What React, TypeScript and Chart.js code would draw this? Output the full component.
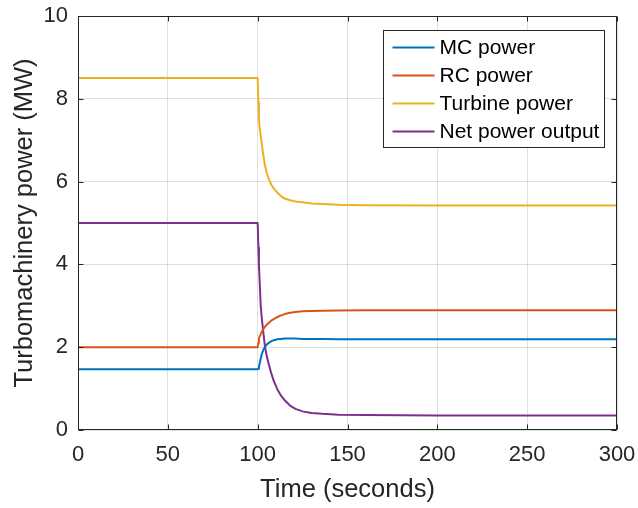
import React, { useEffect, useRef } from "react";
import { Chart, registerables } from "chart.js";

Chart.register(...registerables);

const time = [0, 100, 100.4, 100.7, 101.1, 101.7, 102.3, 103, 104, 105, 106, 107.5, 109, 111, 113, 115, 118, 121, 125, 130, 136, 145, 160, 200, 300];
const mcPower = [1.47, 1.47, 1.48, 1.52, 1.6, 1.72, 1.83, 1.92, 2.0, 2.06, 2.1, 2.14, 2.17, 2.19, 2.2, 2.21, 2.21, 2.21, 2.2, 2.2, 2.2, 2.19, 2.19, 2.19, 2.19];
const rcPower = [2.0, 2.0, 2.1, 2.2, 2.26, 2.31, 2.37, 2.43, 2.49, 2.54, 2.58, 2.64, 2.68, 2.73, 2.77, 2.8, 2.83, 2.85, 2.87, 2.875, 2.88, 2.885, 2.89, 2.89, 2.89];
const turbinePower = [8.5, 8.5, 7.91, 7.51, 7.3, 7.11, 6.9, 6.68, 6.4, 6.22, 6.08, 5.93, 5.83, 5.73, 5.65, 5.59, 5.55, 5.52, 5.5, 5.47, 5.46, 5.44, 5.43, 5.42, 5.42];
const netPower = [5.0, 5.0, 4.41, 4.0, 3.6, 3.0, 2.7, 2.42, 2.03, 1.8, 1.62, 1.38, 1.18, 0.98, 0.83, 0.72, 0.59, 0.51, 0.45, 0.41, 0.39, 0.37, 0.36, 0.35, 0.35];

const seriesLabels = ["MC power", "RC power", "Turbine power", "Net power output"];
const seriesColors = ["#0072BD", "#D95319", "#EDB120", "#7E2F8E"];
const seriesValues = [mcPower, rcPower, turbinePower, netPower];

const xTicks = [0, 50, 100, 150, 200, 250, 300];
const yTicks = [0, 2, 4, 6, 8, 10];

const FONT = "'Liberation Sans', Arial, Helvetica, sans-serif";
const AXIS_COLOR = "#262626";

const framePlugin = {
  id: "matlabFrame",
  afterDraw(chart: any) {
    const { ctx, chartArea } = chart;
    const { left, right, top, bottom } = chartArea;
    const xs = chart.scales.x;
    const ys = chart.scales.y;
    ctx.save();
    ctx.strokeStyle = AXIS_COLOR;
    ctx.lineWidth = 1;
    const L = Math.round(left) + 0.5;
    const R = Math.round(right) - 0.5;
    const T = Math.round(top) + 0.5;
    const B = Math.round(bottom) - 0.5;
    ctx.strokeRect(L, T, R - L, B - T);
    const tl = 5;
    ctx.beginPath();
    xTicks.forEach((v) => {
      const px = Math.round(xs.getPixelForValue(v)) + 0.5;
      ctx.moveTo(px, B);
      ctx.lineTo(px, B - tl);
      ctx.moveTo(px, T);
      ctx.lineTo(px, T + tl);
    });
    yTicks.forEach((v) => {
      const py = Math.round(ys.getPixelForValue(v)) + 0.5;
      ctx.moveTo(L, py);
      ctx.lineTo(L + tl, py);
      ctx.moveTo(R, py);
      ctx.lineTo(R - tl, py);
    });
    ctx.stroke();

    // legend
    const boxW = 221;
    const boxH = 117;
    const bx = Math.round(right) - 13 - boxW + 0.5;
    const by = Math.round(top) + 14 + 0.5;
    ctx.fillStyle = "#ffffff";
    ctx.fillRect(bx, by, boxW, boxH);
    ctx.strokeStyle = AXIS_COLOR;
    ctx.strokeRect(bx, by, boxW, boxH);
    ctx.font = `21px ${FONT}`;
    ctx.textBaseline = "middle";
    ctx.textAlign = "left";
    chart.data.datasets.forEach((ds: any, i: number) => {
      const ry = by + 17 + i * 28;
      ctx.strokeStyle = ds.borderColor;
      ctx.lineWidth = 2;
      ctx.beginPath();
      ctx.moveTo(bx + 9, ry);
      ctx.lineTo(bx + 51, ry);
      ctx.stroke();
      ctx.fillStyle = "#000000";
      ctx.fillText(ds.label, bx + 56, ry + 1);
    });
    ctx.restore();
  },
};

export default function App() {
  const ref = useRef<HTMLCanvasElement | null>(null);
  useEffect(() => {
    document.body.style.margin = "0";
    const canvas = ref.current;
    if (!canvas) return;
    const datasets = seriesValues.map((vals, i) => ({
      label: seriesLabels[i],
      data: time.map((t, j) => ({ x: t, y: vals[j] })),
      borderColor: seriesColors[i],
      backgroundColor: seriesColors[i],
      borderWidth: 2,
      borderJoinStyle: "round" as const,
      pointRadius: 0,
      tension: 0,
      fill: false,
    }));
    const chart = new Chart(canvas, {
      type: "line",
      data: { datasets },
      options: {
        responsive: false,
        animation: false,
        devicePixelRatio: 1,
        layout: { padding: { top: 16, right: 21, left: 0, bottom: 0 } },
        plugins: { legend: { display: false }, tooltip: { enabled: false } },
        scales: {
          x: {
            type: "linear",
            min: 0,
            max: 300,
            afterFit: (s: any) => {
              s.height = 78;
              s.paddingLeft = 0;
              s.paddingRight = 0;
            },
            afterBuildTicks: (s: any) => {
              s.ticks = xTicks.map((v) => ({ value: v }));
            },
            grid: { color: "rgba(38,38,38,0.15)", drawTicks: false, lineWidth: 1 },
            border: { display: false },
            ticks: {
              padding: 12,
              color: AXIS_COLOR,
              font: { family: FONT, size: 22 },
              maxRotation: 0,
              autoSkip: false,
            },
            title: {
              display: true,
              text: "Time (seconds)",
              color: AXIS_COLOR,
              font: { family: FONT, size: 25.5 },
              padding: { top: 0, bottom: 3 },
            },
          },
          y: {
            type: "linear",
            min: 0,
            max: 10,
            afterFit: (s: any) => {
              s.width = 78;
              s.paddingTop = 0;
              s.paddingBottom = 0;
            },
            afterBuildTicks: (s: any) => {
              s.ticks = yTicks.map((v) => ({ value: v }));
            },
            grid: { color: "rgba(38,38,38,0.15)", drawTicks: false, lineWidth: 1 },
            border: { display: false },
            ticks: {
              padding: 10,
              color: AXIS_COLOR,
              font: { family: FONT, size: 22 },
              autoSkip: false,
            },
            title: {
              display: true,
              text: "Turbomachinery power (MW)",
              color: AXIS_COLOR,
              font: { family: FONT, size: 25.5 },
              padding: { top: 10, bottom: 0 },
            },
          },
        },
      },
      plugins: [framePlugin],
    });
    return () => chart.destroy();
  }, []);
  return <canvas ref={ref} width={638} height={508} style={{ display: "block", width: 638, height: 508 }} />;
}
